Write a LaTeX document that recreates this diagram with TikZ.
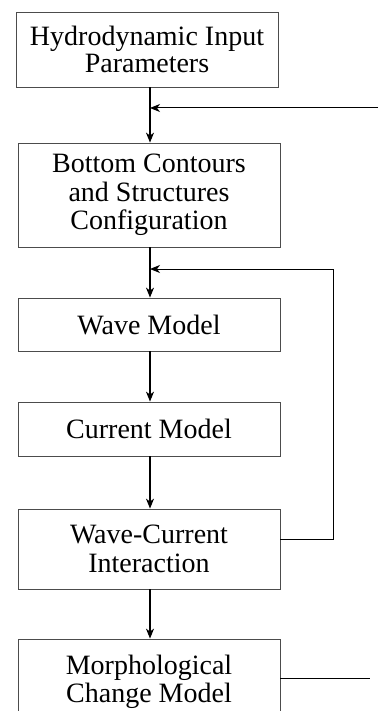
\documentclass[tikz,border=0pt]{standalone}
\usepackage{fontspec}
\setmainfont{Liberation Serif}
\usetikzlibrary{arrows.meta}
\begin{document}
\begin{tikzpicture}[x=1pt,y=-1pt,
  box/.style={draw=black!70, line width=0.8pt, inner sep=0pt, align=center,
    font=\fontsize{28}{28.5}\selectfont, minimum width=262pt},
  arr/.style={line width=1.1pt, -{Stealth[length=10pt,width=8pt,inset=3pt]}},
  fb/.style={line width=1pt}]
\useasboundingbox (0,0) rectangle (378,711);
\clip (0,0) rectangle (378,711);
\node[box, minimum height=75pt] (b1) at (147,49.5) {Hydrodynamic Input\\[-1.5pt]Parameters};
\node[box, minimum height=104pt] (b2) at (149,195) {Bottom Contours\\and Structures\\Configuration};
\node[box, minimum height=53pt] (b3) at (149,324.5) {Wave Model};
\node[box, minimum height=54pt] (b4) at (149,429) {Current Model};
\node[box, minimum height=80pt] (b5) at (149,549) {Wave-Current\\Interaction};
\node[box, minimum height=86pt] (b6) at (149,682) {Morphological\\Change Model};
\coordinate (ax) at (150,0);
\coordinate (f1) at (378,108);
\coordinate (f2) at (333,269);
\coordinate (r5) at (333,539);
\coordinate (r6) at (370,678);
\draw[arr] (b1.south -| ax) -- (b2.north -| ax);
\draw[arr] (b2.south -| ax) -- (b3.north -| ax);
\draw[arr] (b3.south -| ax) -- (b4.north -| ax);
\draw[arr] (b4.south -| ax) -- (b5.north -| ax);
\draw[arr] (b5.south -| ax) -- (b6.north -| ax);
\draw[arr, fb] (f1) -- (f1 -| ax);
\draw[arr, fb] (b5.east |- r5) -- (r5) -- (f2) -- (f2 -| ax);
\draw[fb] (b6.east |- r6) -- (r6);
\end{tikzpicture}
\end{document}
